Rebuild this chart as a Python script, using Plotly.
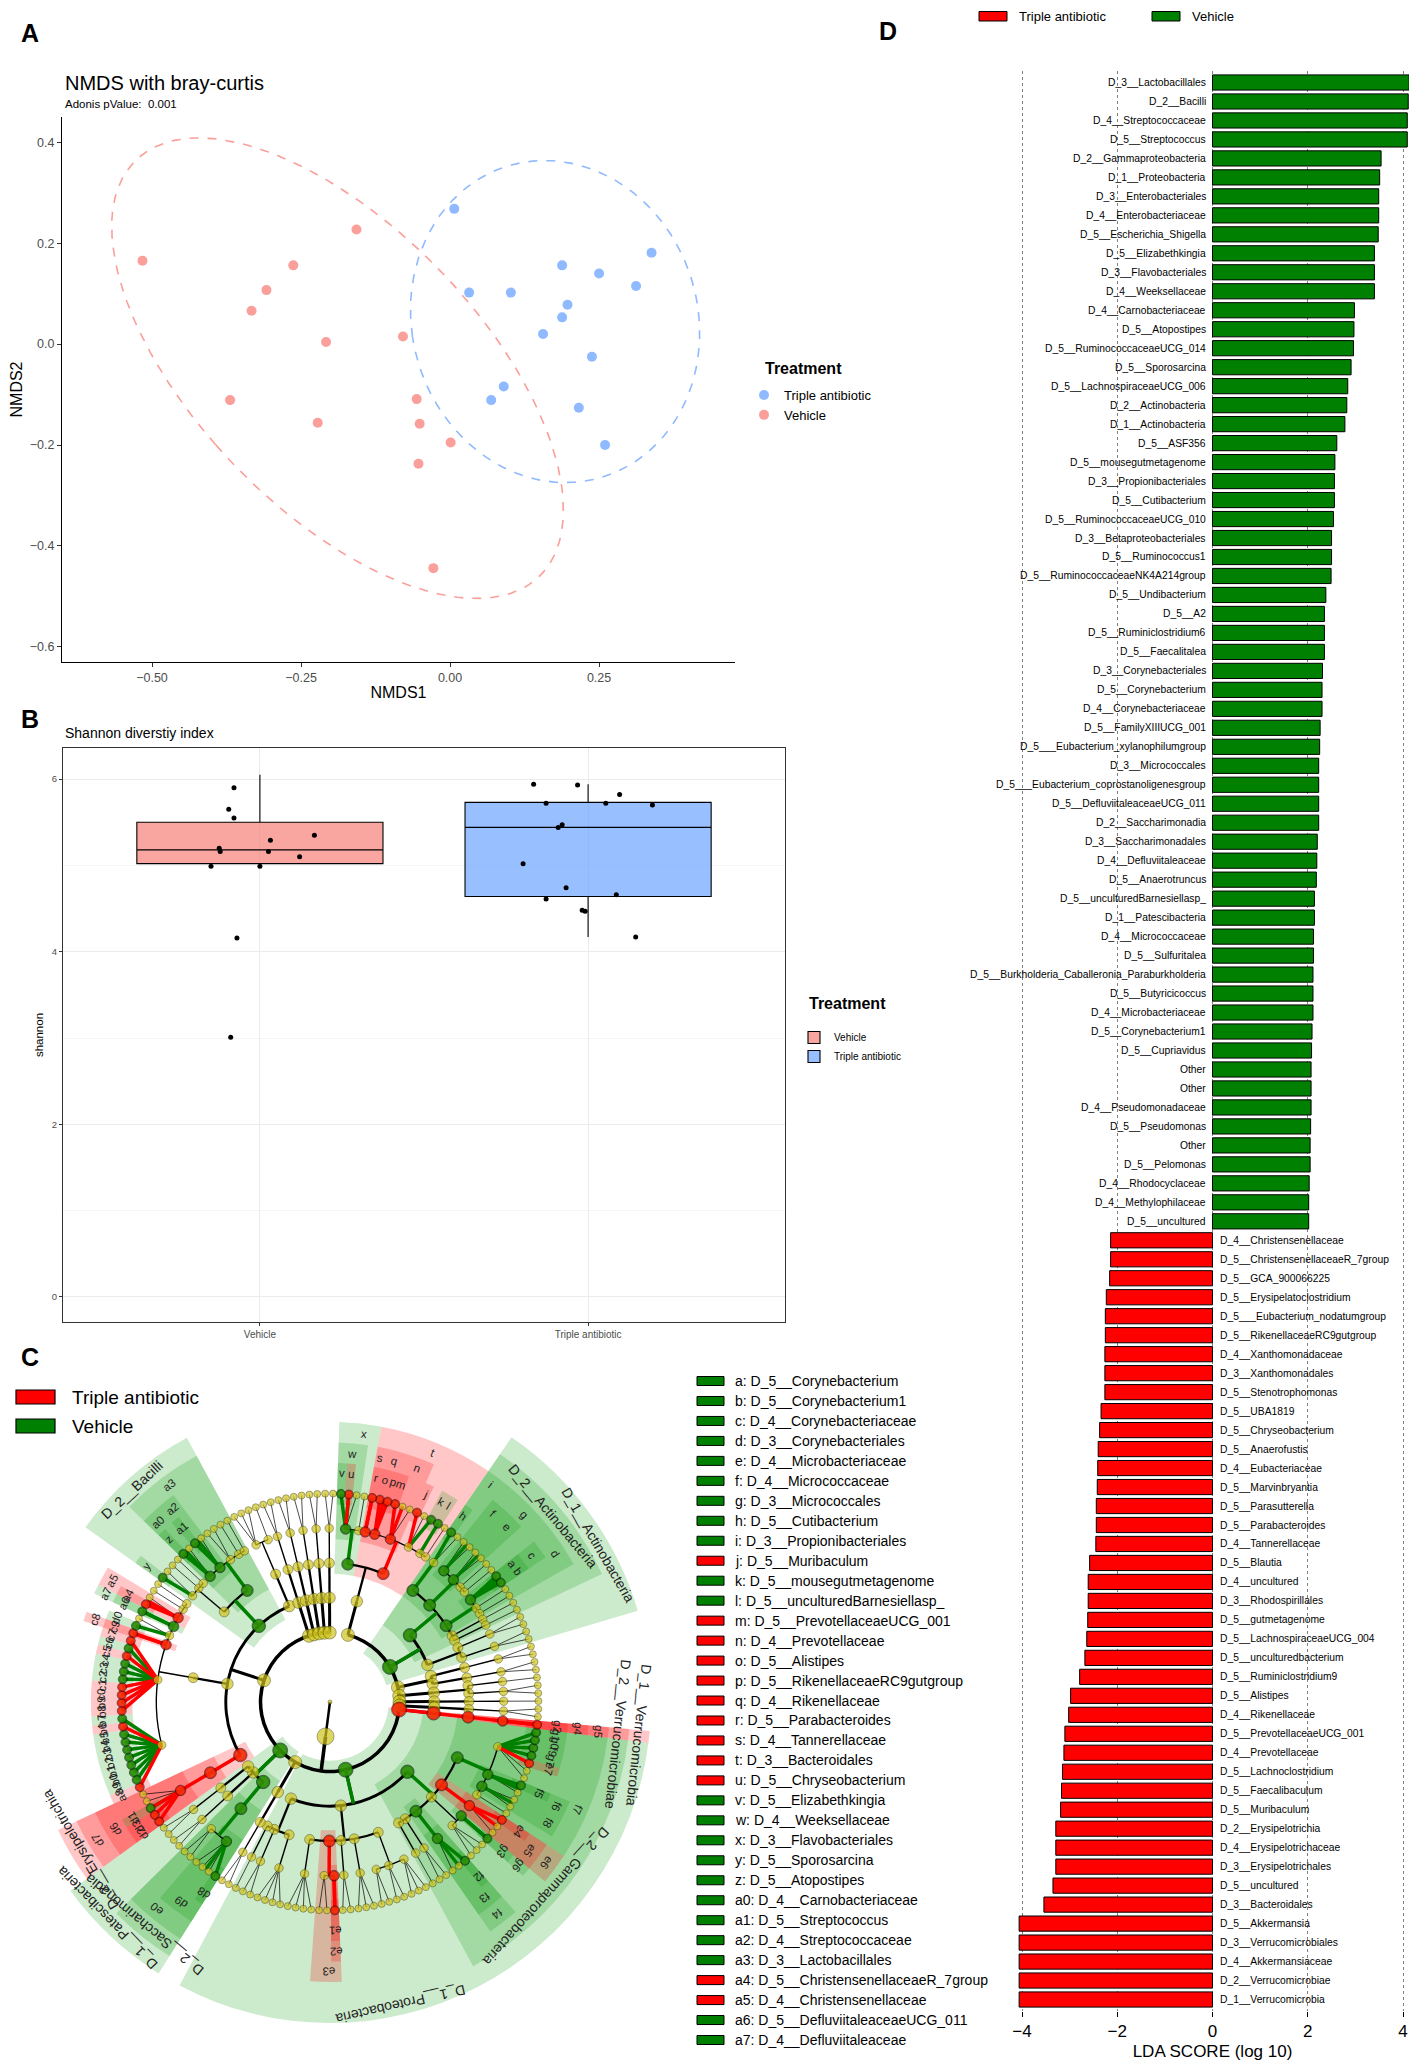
import numpy as np
import plotly.graph_objects as go

W, H = 1417, 2068
OFF = 8  # the page body adds an 8 px margin
FONT = "Liberation Sans, Arial, Helvetica, sans-serif"


def fx(p):
    return (p - OFF) / W


def fy(p):
    return 1 - (p - OFF) / H


RED_PT = "rgba(248,118,109,0.7)"
BLUE_PT = "rgba(97,156,255,0.7)"

# ---------------- A: NMDS (bray-curtis) ----------------
nmds_tri_x = [0.007, 0.338, 0.188, 0.250, 0.032, 0.102, 0.312, 0.197, 0.188, 0.156, 0.238, 0.090, 0.069, 0.216, 0.260]
nmds_tri_y = [0.268, 0.181, 0.156, 0.140, 0.102, 0.102, 0.115, 0.078, 0.053, 0.020, -0.025, -0.084, -0.111, -0.126, -0.200]
nmds_veh_x = [-0.516, -0.157, -0.263, -0.308, -0.333, -0.208, -0.079, -0.369, -0.222, -0.056, -0.051, 0.001, -0.053, -0.028]
nmds_veh_y = [0.165, 0.227, 0.156, 0.107, 0.066, 0.004, 0.015, -0.111, -0.156, -0.109, -0.158, -0.195, -0.237, -0.444]

# ---------------- B: Shannon index ----------------
shannon_groups = ["Vehicle", "Triple antibiotic"]
shannon_veh = [5.90, 5.65, 5.55, 5.35, 5.29, 5.20, 5.16, 5.16, 5.10, 4.99, 4.99, 4.16, 3.01]
shannon_veh_jit = [-0.079, -0.095, -0.079, 0.166, 0.032, -0.124, -0.121, 0.026, 0.121, -0.149, 0.0, -0.070, -0.089]
shannon_tri = [5.94, 5.93, 5.82, 5.72, 5.72, 5.70, 5.47, 5.44, 5.02, 4.74, 4.66, 4.61, 4.48, 4.47, 4.17]
shannon_tri_jit = [-0.166, -0.032, 0.096, -0.128, 0.054, 0.196, -0.079, -0.091, -0.198, -0.067, 0.086, -0.128, -0.018, -0.009, 0.145]
box_q1 = [5.02, 4.64]
box_med = [5.18, 5.44]
box_q3 = [5.50, 5.73]
box_lo = [4.99, 4.17]
box_hi = [6.05, 5.94]

# ---------------- C: cladogram ----------------
clade_tree = [
    ("D_1__Bacteroidetes", [
        ("D_2__Bacteroidia", [
            ("D_3__Flavobacteriales", [
                ("D_4__Weeksellaceae", ["D_5__Elizabethkingia", "D_5__Chryseobacterium", "-"]),
                ("D_4__Flavobacteriaceae", ["-"])]),
            ("D_3__Bacteroidales", [
                ("D_4__Tannerellaceae", ["D_5__Parabacteroides"]),
                ("D_4__Rikenellaceae", ["D_5__Alistipes", "D_5__RikenellaceaeRC9gutgroup"]),
                ("D_4__Prevotellaceae", ["D_5__PrevotellaceaeUCG_001", "-", "-"]),
                ("D_4__Muribaculaceae", ["D_5__Muribaculum", "-", "D_5__mousegutmetagenome"]),
                ("D_4__Barnesiellaceae", ["D_5__unculturedBarnesiellasp_"]),
                ("D_4__Bacteroidaceae", ["-"])])])]),
    ("D_1__Actinobacteria", [
        ("D_2__Actinobacteria", [
            ("D_3__Propionibacteriales", [("D_4__Propionibacteriaceae", ["D_5__Cutibacterium", "-"])]),
            ("D_3__Micrococcales", [
                ("D_4__Micrococcaceae", ["-", "-"]),
                ("D_4__Microbacteriaceae", ["-", "-"]),
                ("D_4__Intrasporangiaceae", ["-"]),
                ("D_4__Brevibacteriaceae", ["-"])]),
            ("D_3__Corynebacteriales", [
                ("D_4__Corynebacteriaceae", ["D_5__Corynebacterium", "D_5__Corynebacterium1"]),
                ("D_4__Dietziaceae", ["-"]),
                ("D_4__Nocardiaceae", ["-"])]),
            ("D_3__Bifidobacteriales", [("D_4__Bifidobacteriaceae", ["-"])]),
            ("D_3__Frankiales", [("D_4__Geodermatophilaceae", ["-"])])]),
        ("D_2__Coriobacteriia", [
            ("D_3__Coriobacteriales", [("D_4__Atopobiaceae", ["-", "-"])]),
            ("D_3__Eggerthellales", [("D_4__Eggerthellaceae", ["-", "-"])])])]),
    ("D_1__Cyanobacteria", [
        ("D_2__Melainabacteria", [("D_3__Gastranaerophilales", [("D_4__Gastranaerophilales", ["-", "-"])])]),
        ("D_2__Oxyphotobacteria", [("D_3__Chloroplast", [("D_4__Chloroplast", ["-", "-"])])])]),
    ("D_1__Tenericutes", [
        ("D_2__Mollicutes", [
            ("D_3__Anaeroplasmatales", [("D_4__Anaeroplasmataceae", ["-"])]),
            ("D_3__Mollicutes_RF39", [("D_4__Mollicutes_RF39", ["-", "-"])])])]),
    ("D_1__Deferribacteres", [("D_2__Deferribacteres", [("D_3__Deferribacterales", [("D_4__Deferribacteraceae", ["-"])])])]),
    ("D_1__Epsilonbacteraeota", [("D_2__Campylobacteria", [("D_3__Campylobacterales", [("D_4__Helicobacteraceae", ["-", "-"])])])]),
    ("D_1__Verrucomicrobia", [("D_2__Verrucomicrobiae", [("D_3__Verrucomicrobiales", [("D_4__Akkermansiaceae", ["D_5__Akkermansia"])])])]),
    ("D_1__Proteobacteria", [
        ("D_2__Gammaproteobacteria", [
            ("D_3__Betaproteobacteriales", [
                ("D_4__Burkholderiaceae", ["D_5__Burkholderia_Caballeronia_Paraburkholderia", "D_5__Cupriavidus",
                                           "D_5__Pelomonas", "D_5__Undibacterium", "D_5__Parasutterella", "-", "-"]),
                ("D_4__Rhodocyclaceae", ["D_5__Sulfuritalea", "-"]),
                ("D_4__Methylophilaceae", ["-", "-"]),
                ("D_4__Nitrosomonadaceae", ["-"])]),
            ("D_3__Xanthomonadales", [("D_4__Xanthomonadaceae", ["D_5__Stenotrophomonas", "-", "-"])]),
            ("D_3__Pseudomonadales", [("D_4__Pseudomonadaceae", ["D_5__Pseudomonas"]), ("D_4__Moraxellaceae", ["-", "-", "-"])]),
            ("D_3__Enterobacteriales", [("D_4__Enterobacteriaceae", ["D_5__Escherichia_Shigella", "-", "-"])]),
            ("D_3__Pasteurellales", [("D_4__Pasteurellaceae", ["-", "-"])]),
            ("D_3__Aeromonadales", [("D_4__Aeromonadaceae", ["-"])])]),
        ("D_2__Alphaproteobacteria", [
            ("D_3__Rhizobiales", [("D_4__Rhizobiaceae", ["-", "-", "-"]), ("D_4__Beijerinckiaceae", ["-", "-"]),
                                  ("D_4__Xanthobacteraceae", ["-", "-"])]),
            ("D_3__Sphingomonadales", [("D_4__Sphingomonadaceae", ["-", "-", "-"])]),
            ("D_3__Caulobacterales", [("D_4__Caulobacteraceae", ["-", "-"])]),
            ("D_3__Rhodospirillales", [("D_4__uncultured", ["D_5__uncultured"]), ("D_4__Acetobacteraceae", ["-", "-"])]),
            ("D_3__Rhodobacterales", [("D_4__Rhodobacteraceae", ["-", "-", "-", "-"])])]),
        ("D_2__Deltaproteobacteria", [
            ("D_3__Desulfovibrionales", [("D_4__Desulfovibrionaceae", ["-", "-", "-", "-"])]),
            ("D_3__Myxococcales", [("D_4__Myxococcaceae", ["-", "-"])]),
            ("D_3__Bdellovibrionales", [("D_4__Bdellovibrionaceae", ["-"])])])]),
    ("D_1__Spirochaetes", [("D_2__Spirochaetia", [("D_3__Spirochaetales", [("D_4__Spirochaetaceae", ["-", "-"])])])]),
    ("D_1__Patescibacteria", [
        ("D_2__Saccharimonadia", [("D_3__Saccharimonadales", [
            ("D_4__Saccharimonadaceae", ["D_5__Candidatus_Saccharimonas", "-", "-", "-"]),
            ("D_4__LWQ8", ["-", "-"])])]),
        ("D_2__Gracilibacteria", [("D_3__Absconditabacteriales", [("D_4__Absconditabacteriales", ["-", "-"])])]),
        ("D_2__Parcubacteria", [("D_3__Kaiserbacteria", [("D_4__Kaiserbacteria", ["-", "-"])])])]),
    ("D_1__Firmicutes", [
        ("D_2__Erysipelotrichia", [("D_3__Erysipelotrichales", [
            ("D_4__Erysipelotrichaceae", ["D_5__Erysipelatoclostridium", "D_5__Faecalibaculum", "D_5__Faecalitalea", "-", "-"])])]),
        ("D_2__Clostridia", [("D_3__Clostridiales", [
            ("D_4__Ruminococcaceae", ["D_5__Ruminiclostridium9", "D_5__Ruminiclostridium6", "D_5__RuminococcaceaeUCG_014",
                                      "D_5__RuminococcaceaeUCG_010", "D_5__Ruminococcus1", "D_5__RuminococcaceaeNK4A214group",
                                      "D_5__Anaerotruncus", "D_5__Butyricicoccus", "D_5__UBA1819",
                                      "D_5___Eubacterium_coprostanoligenesgroup"]),
            ("D_4__Lachnospiraceae", ["D_5__Blautia", "D_5__Marvinbryantia", "D_5__Lachnoclostridium",
                                      "D_5__LachnospiraceaeUCG_004", "D_5__LachnospiraceaeUCG_006",
                                      "D_5___Eubacterium_xylanophilumgroup", "D_5__A2", "D_5___Eubacterium_nodatumgroup",
                                      "D_5__ASF356", "D_5__GCA_900066225"]),
            ("D_4__Eubacteriaceae", ["D_5__Anaerofustis"]),
            ("D_4__FamilyXIII", ["D_5__FamilyXIIIUCG_001", "-"]),
            ("D_4__Defluviitaleaceae", ["D_5__DefluviitaleaceaeUCG_011"]),
            ("D_4__Christensenellaceae", ["D_5__ChristensenellaceaeR_7group", "-"]),
            ("D_4__Peptostreptococcaceae", ["-"]),
            ("D_4__Clostridiaceae_1", ["-"])])]),
        ("D_2__Bacilli", [
            ("D_3__Bacillales", [("D_4__Planococcaceae", ["D_5__Sporosarcina", "-"]), ("D_4__Staphylococcaceae", ["-"]),
                                 ("D_4__Bacillaceae", ["-"])]),
            ("D_3__Lactobacillales", [("D_4__Carnobacteriaceae", ["D_5__Atopostipes", "-"]),
                                      ("D_4__Streptococcaceae", ["D_5__Streptococcus", "-"]),
                                      ("D_4__Lactobacillaceae", ["-", "-"]), ("D_4__Enterococcaceae", ["-"]),
                                      ("D_4__Aerococcaceae", ["-"])])]),
        ("D_2__Negativicutes", [("D_3__Selenomonadales", [("D_4__Veillonellaceae", ["-", "-", "-"]),
                                                         ("D_4__Acidaminococcaceae", ["-"])])])]),
    ("D_1__Fusobacteria", [("D_2__Fusobacteriia", [("D_3__Fusobacteriales", [("D_4__Fusobacteriaceae", ["-", "-"])])])]),
    ("D_1__Deinococcus_Thermus", [("D_2__Deinococci", [("D_3__Deinococcales", [("D_4__Deinococcaceae", ["-", "-"])])])]),
    ("D_1__Chloroflexi", [("D_2__Anaerolineae", [("D_3__Anaerolineales", [("D_4__Anaerolineaceae", ["-", "-"])])])]),
    ("D_1__Acidobacteria", [("D_2__Acidobacteriia", [("D_3__Acidobacteriales", [("D_4__Acidobacteriaceae", ["-", "-"])])])]),
    ("D_1__Planctomycetes", [("D_2__Planctomycetacia", [("D_3__Pirellulales", [("D_4__Pirellulaceae", ["-", "-"])])])]),
]

# (label, taxon, group)  T = Triple antibiotic, V = Vehicle ; the first 34 form the key
clade_marks = [
    ("a", "D_5__Corynebacterium", "V"), ("b", "D_5__Corynebacterium1", "V"), ("c", "D_4__Corynebacteriaceae", "V"),
    ("d", "D_3__Corynebacteriales", "V"), ("e", "D_4__Microbacteriaceae", "V"), ("f", "D_4__Micrococcaceae", "V"),
    ("g", "D_3__Micrococcales", "V"), ("h", "D_5__Cutibacterium", "V"), ("i", "D_3__Propionibacteriales", "V"),
    ("j", "D_5__Muribaculum", "T"), ("k", "D_5__mousegutmetagenome", "V"), ("l", "D_5__unculturedBarnesiellasp_", "V"),
    ("m", "D_5__PrevotellaceaeUCG_001", "T"), ("n", "D_4__Prevotellaceae", "T"), ("o", "D_5__Alistipes", "T"),
    ("p", "D_5__RikenellaceaeRC9gutgroup", "T"), ("q", "D_4__Rikenellaceae", "T"), ("r", "D_5__Parabacteroides", "T"),
    ("s", "D_4__Tannerellaceae", "T"), ("t", "D_3__Bacteroidales", "T"), ("u", "D_5__Chryseobacterium", "T"),
    ("v", "D_5__Elizabethkingia", "V"), ("w", "D_4__Weeksellaceae", "V"), ("x", "D_3__Flavobacteriales", "V"),
    ("y", "D_5__Sporosarcina", "V"), ("z", "D_5__Atopostipes", "V"), ("a0", "D_4__Carnobacteriaceae", "V"),
    ("a1", "D_5__Streptococcus", "V"), ("a2", "D_4__Streptococcaceae", "V"), ("a3", "D_3__Lactobacillales", "V"),
    ("a4", "D_5__ChristensenellaceaeR_7group", "T"), ("a5", "D_4__Christensenellaceae", "T"),
    ("a6", "D_5__DefluviitaleaceaeUCG_011", "V"), ("a7", "D_4__Defluviitaleaceae", "V"),
    ("a8", "D_5__Ruminiclostridium9", "T"), ("a9", "D_5__Ruminiclostridium6", "V"),
    ("b0", "D_5__RuminococcaceaeUCG_014", "V"), ("b1", "D_5__RuminococcaceaeUCG_010", "V"),
    ("b2", "D_5__Ruminococcus1", "V"), ("b3", "D_5__RuminococcaceaeNK4A214group", "V"),
    ("b4", "D_5__Anaerotruncus", "V"), ("b5", "D_5__Butyricicoccus", "V"), ("b6", "D_5__UBA1819", "T"),
    ("b7", "D_5___Eubacterium_coprostanoligenesgroup", "V"), ("b8", "D_5__Blautia", "T"),
    ("b9", "D_5__Marvinbryantia", "T"), ("c0", "D_5__Lachnoclostridium", "T"), ("c1", "D_5__LachnospiraceaeUCG_004", "T"),
    ("c2", "D_5__LachnospiraceaeUCG_006", "V"), ("c3", "D_5___Eubacterium_xylanophilumgroup", "V"),
    ("c4", "D_5__A2", "V"), ("c5", "D_5___Eubacterium_nodatumgroup", "T"), ("c6", "D_5__ASF356", "V"),
    ("c7", "D_5__GCA_900066225", "T"), ("c8", "D_4__Eubacteriaceae", "T"), ("c9", "D_5__Anaerofustis", "T"),
    ("d0", "D_5__FamilyXIIIUCG_001", "V"), ("d1", "D_5__Faecalitalea", "V"), ("d2", "D_5__Erysipelatoclostridium", "T"),
    ("d3", "D_5__Faecalibaculum", "T"), ("d6", "D_4__Erysipelotrichaceae", "T"), ("d7", "D_3__Erysipelotrichales", "T"),
    ("d8", "D_5__Candidatus_Saccharimonas", "V"), ("d9", "D_4__Saccharimonadaceae", "V"),
    ("e0", "D_3__Saccharimonadales", "V"), ("e1", "D_5__uncultured", "T"), ("e2", "D_4__uncultured", "T"),
    ("e3", "D_3__Rhodospirillales", "T"), ("e4", "D_5__Stenotrophomonas", "T"), ("e5", "D_4__Xanthomonadaceae", "T"),
    ("e6", "D_3__Xanthomonadales", "T"), ("e7", "D_5__Parasutterella", "T"), ("f2", "D_5__Escherichia_Shigella", "V"),
    ("f3", "D_4__Enterobacteriaceae", "V"), ("f4", "D_3__Enterobacteriales", "V"), ("f5", "D_5__Sulfuritalea", "V"),
    ("f6", "D_4__Rhodocyclaceae", "V"), ("f7", "D_3__Betaproteobacteriales", "V"), ("f8", "D_4__Methylophilaceae", "V"),
    ("f9", "D_5__Pelomonas", "V"), ("g0", "D_5__Cupriavidus", "V"),
    ("g1", "D_5__Burkholderia_Caballeronia_Paraburkholderia", "V"), ("g2", "D_5__Akkermansia", "T"),
    ("g3", "D_5__Pseudomonas", "V"), ("g4", "D_4__Akkermansiaceae", "T"), ("g5", "D_3__Verrucomicrobiales", "T"),
    ("g6", "D_4__Pseudomonadaceae", "V"), ("g7", "D_5__Undibacterium", "V"),
    ("D_1__Actinobacteria", "D_1__Actinobacteria", "V"), ("D_2__Actinobacteria", "D_2__Actinobacteria", "V"),
    ("D_2__Bacilli", "D_2__Bacilli", "V"), ("D_1__Proteobacteria", "D_1__Proteobacteria", "V"),
    ("D_2__Gammaproteobacteria", "D_2__Gammaproteobacteria", "V"),
    ("D_1__Verrucomicrobia", "D_1__Verrucomicrobia", "T"), ("D_2__Verrucomicrobiae", "D_2__Verrucomicrobiae", "T"),
    ("D_1__Patescibacteria", "D_1__Patescibacteria", "V"), ("D_2__Saccharimonadia", "D_2__Saccharimonadia", "V"),
    ("D_2__Erysipelotrichia", "D_2__Erysipelotrichia", "T"),
]
n_key = 34

# ---------------- D: LDA scores ----------------
lda_veh_names = [
    "D_3__Lactobacillales", "D_2__Bacilli", "D_4__Streptococcaceae", "D_5__Streptococcus",
    "D_2__Gammaproteobacteria", "D_1__Proteobacteria", "D_3__Enterobacteriales", "D_4__Enterobacteriaceae",
    "D_5__Escherichia_Shigella", "D_5__Elizabethkingia", "D_3__Flavobacteriales", "D_4__Weeksellaceae",
    "D_4__Carnobacteriaceae", "D_5__Atopostipes", "D_5__RuminococcaceaeUCG_014", "D_5__Sporosarcina",
    "D_5__LachnospiraceaeUCG_006", "D_2__Actinobacteria", "D_1__Actinobacteria", "D_5__ASF356",
    "D_5__mousegutmetagenome", "D_3__Propionibacteriales", "D_5__Cutibacterium", "D_5__RuminococcaceaeUCG_010",
    "D_3__Betaproteobacteriales", "D_5__Ruminococcus1", "D_5__RuminococcaceaeNK4A214group", "D_5__Undibacterium",
    "D_5__A2", "D_5__Ruminiclostridium6", "D_5__Faecalitalea", "D_3__Corynebacteriales", "D_5__Corynebacterium",
    "D_4__Corynebacteriaceae", "D_5__FamilyXIIIUCG_001", "D_5___Eubacterium_xylanophilumgroup", "D_3__Micrococcales",
    "D_5___Eubacterium_coprostanoligenesgroup", "D_5__DefluviitaleaceaeUCG_011", "D_2__Saccharimonadia",
    "D_3__Saccharimonadales", "D_4__Defluviitaleaceae", "D_5__Anaerotruncus", "D_5__unculturedBarnesiellasp_",
    "D_1__Patescibacteria", "D_4__Micrococcaceae", "D_5__Sulfuritalea",
    "D_5__Burkholderia_Caballeronia_Paraburkholderia", "D_5__Butyricicoccus", "D_4__Microbacteriaceae",
    "D_5__Corynebacterium1", "D_5__Cupriavidus", "Other", "Other", "D_4__Pseudomonadaceae", "D_5__Pseudomonas",
    "Other", "D_5__Pelomonas", "D_4__Rhodocyclaceae", "D_4__Methylophilaceae", "D_5__uncultured",
]
lda_veh_scores = [
    4.13, 4.11, 4.09, 4.09, 3.54, 3.51, 3.49, 3.49, 3.48, 3.40, 3.40, 3.40, 2.98, 2.97, 2.96, 2.91, 2.84, 2.82,
    2.78, 2.61, 2.57, 2.56, 2.56, 2.54, 2.50, 2.50, 2.49, 2.38, 2.35, 2.35, 2.35, 2.31, 2.30, 2.30, 2.26, 2.25,
    2.23, 2.23, 2.23, 2.23, 2.20, 2.19, 2.18, 2.14, 2.14, 2.12, 2.12, 2.11, 2.11, 2.11, 2.09, 2.08, 2.07, 2.07,
    2.07, 2.06, 2.05, 2.05, 2.03, 2.02, 2.02,
]
lda_tri_names = [
    "D_4__Christensenellaceae", "D_5__ChristensenellaceaeR_7group", "D_5__GCA_900066225",
    "D_5__Erysipelatoclostridium", "D_5___Eubacterium_nodatumgroup", "D_5__RikenellaceaeRC9gutgroup",
    "D_4__Xanthomonadaceae", "D_3__Xanthomonadales", "D_5__Stenotrophomonas", "D_5__UBA1819",
    "D_5__Chryseobacterium", "D_5__Anaerofustis", "D_4__Eubacteriaceae", "D_5__Marvinbryantia",
    "D_5__Parasutterella", "D_5__Parabacteroides", "D_4__Tannerellaceae", "D_5__Blautia", "D_4__uncultured",
    "D_3__Rhodospirillales", "D_5__gutmetagenome", "D_5__LachnospiraceaeUCG_004", "D_5__unculturedbacterium",
    "D_5__Ruminiclostridium9", "D_5__Alistipes", "D_4__Rikenellaceae", "D_5__PrevotellaceaeUCG_001",
    "D_4__Prevotellaceae", "D_5__Lachnoclostridium", "D_5__Faecalibaculum", "D_5__Muribaculum",
    "D_2__Erysipelotrichia", "D_4__Erysipelotrichaceae", "D_3__Erysipelotrichales", "D_5__uncultured",
    "D_3__Bacteroidales", "D_5__Akkermansia", "D_3__Verrucomicrobiales", "D_4__Akkermansiaceae",
    "D_2__Verrucomicrobiae", "D_1__Verrucomicrobia",
]
lda_tri_scores = [
    -2.14, -2.14, -2.16, -2.23, -2.25, -2.25, -2.26, -2.26, -2.26, -2.34, -2.37, -2.40, -2.41, -2.42, -2.44,
    -2.44, -2.45, -2.58, -2.61, -2.61, -2.62, -2.64, -2.68, -2.79, -2.98, -3.02, -3.10, -3.12, -3.15, -3.17,
    -3.19, -3.29, -3.29, -3.29, -3.35, -3.54, -4.06, -4.06, -4.06, -4.06, -4.06,
]

GREEN = "#008000"
RED = "#FF0000"
GROUP_COL = {"V": GREEN, "T": RED}
GROUP_FILL = {"V": "rgba(0,150,0,0.2)", "T": "rgba(255,0,0,0.22)"}

fig = go.Figure()
ann = []
shapes = []

# ======== panel A ========


def conf_ellipse(xs, ys, chi2=5.991, n=140):
    # normal-theory 95% ellipse, like stat_ellipse
    pts = np.column_stack([xs, ys])
    mu = pts.mean(axis=0)
    vals, vecs = np.linalg.eigh(np.cov(pts.T))
    t = np.linspace(0, 2 * np.pi, n)
    unit = np.vstack([np.cos(t), np.sin(t)])
    ell = vecs @ (np.sqrt(vals * chi2)[:, None] * unit) + mu[:, None]
    return ell[0], ell[1]


nmds_sets = [("Triple antibiotic", nmds_tri_x, nmds_tri_y, BLUE_PT),
             ("Vehicle", nmds_veh_x, nmds_veh_y, RED_PT)]
for name, xs, ys, col in nmds_sets:
    ex, ey = conf_ellipse(xs, ys)
    fig.add_trace(go.Scatter(x=ex, y=ey, mode="lines", line=dict(color=col, dash="dash", width=1.6),
                             showlegend=False, hoverinfo="skip", xaxis="x", yaxis="y"))
for name, xs, ys, col in nmds_sets:
    fig.add_trace(go.Scatter(x=xs, y=ys, mode="markers", name=name, marker=dict(color=col, size=10),
                             xaxis="x", yaxis="y", legend="legend"))

# ======== panel B ========
box_fill = ["rgba(248,118,109,0.65)", "rgba(97,156,255,0.65)"]
for i, name in enumerate(shannon_groups):
    fig.add_trace(go.Box(x=[i + 1], q1=[box_q1[i]], median=[box_med[i]], q3=[box_q3[i]],
                         lowerfence=[box_lo[i]], upperfence=[box_hi[i]], width=0.75, whiskerwidth=0,
                         fillcolor=box_fill[i], line=dict(color="black", width=1.1), name=name,
                         boxpoints=False, xaxis="x2", yaxis="y2", legend="legend2"))
for base, vals, jit in [(1, shannon_veh, shannon_veh_jit), (2, shannon_tri, shannon_tri_jit)]:
    fig.add_trace(go.Scatter(x=[base + j for j in jit], y=vals, mode="markers",
                             marker=dict(color="black", size=5), showlegend=False, xaxis="x2", yaxis="y2"))

# ======== panel C: cladogram ========
R_STEP = 35.6
CX, CY = 330, 1702      # page pixels of the centre
PR, RMAX = 322, 330     # pixel radius of the polar area, radial range
RS = PR / RMAX


def count_leaves(item):
    kids = item[1]
    return sum(1 if isinstance(k, str) else count_leaves(k) for k in kids)


root = ("root", [("D_0__Bacteria", clade_tree)])
n_leaf = count_leaves(root)
step = 360.0 / n_leaf
start = 3.0
nodes = []


def place(item, level, parent, counter):
    name, kids = item
    idx = len(nodes)
    nodes.append({"name": name, "level": level, "parent": parent, "kids": []})
    for k in kids:
        if isinstance(k, str):
            j = len(nodes)
            nodes.append({"name": k, "level": level + 1, "parent": idx, "kids": [],
                          "theta": start + counter[0] * step, "span": (counter[0], counter[0])})
            counter[0] += 1
        else:
            j = place(k, level + 1, idx, counter)
        nodes[idx]["kids"].append(j)
    first, last = nodes[nodes[idx]["kids"][0]], nodes[nodes[idx]["kids"][-1]]
    nodes[idx]["theta"] = (first["theta"] + last["theta"]) / 2
    nodes[idx]["span"] = (first["span"][0], last["span"][1])
    return idx


place(root, 0, None, [0])
by_name = {}
for i, nd in enumerate(nodes):
    if nd["name"] != "-":
        by_name.setdefault(nd["name"], i)

marked = []
for label, taxon, grp in clade_marks:
    if taxon in by_name:
        marked.append((label, nodes[by_name[taxon]], grp))

# shaded clade wedges (outer levels first so nested ones sit on top)
marked.sort(key=lambda m: m[1]["level"])
w_theta, w_width, w_base, w_r, w_col = [], [], [], [], []
for label, nd, grp in marked:
    lv = nd["level"]
    outer = 329 - (lv - 2) * 21
    base = lv * R_STEP - 11
    a0 = start + nd["span"][0] * step - step / 2
    a1 = start + nd["span"][1] * step + step / 2
    w_theta.append((a0 + a1) / 2)
    w_width.append(a1 - a0)
    w_base.append(base)
    w_r.append(outer - base)
    w_col.append(GROUP_FILL[grp])
fig.add_trace(go.Barpolar(theta=w_theta, width=w_width, base=w_base, r=w_r,
                          marker=dict(color=w_col, line=dict(width=0)), showlegend=False,
                          hoverinfo="skip", subplot="polar"))

# tree edges: radial stubs + arcs on the inner levels, fans out to the genera
edge_w = {1: 2.5, 2: 3.6, 3: 3.0, 4: 2.3, 5: 1.4}
lines = {}
arcs = {}
for nd in nodes:
    if not nd["kids"]:
        continue
    kids = [nodes[k] for k in nd["kids"]]
    kl = nd["level"] + 1
    rn, rk = nd["level"] * R_STEP, kl * R_STEP
    if kl <= 5:
        wd = edge_w[kl]
        seg = lines.setdefault(wd, ([], []))
        seg[0].extend([rn, rk, None])
        seg[1].extend([nd["theta"], nd["theta"], None])
        if len(kids) > 1:
            a0, a1 = kids[0]["theta"], kids[-1]["theta"]
            arc = arcs.setdefault(wd, ([], [], [], []))
            arc[0].append((a0 + a1) / 2)
            arc[1].append(a1 - a0)
            arc[2].append(rk - wd / 2)
            arc[3].append(wd)
    else:
        seg = lines.setdefault(0.7, ([], []))
        for k in kids:
            seg[0].extend([rn, rk, None])
            seg[1].extend([nd["theta"], k["theta"], None])
for wd, (th, wdt, bs, rr) in arcs.items():
    fig.add_trace(go.Barpolar(theta=th, width=wdt, base=bs, r=rr, marker=dict(color="black", line=dict(width=0)),
                              showlegend=False, hoverinfo="skip", subplot="polar"))
for wd, (rr, th) in lines.items():
    fig.add_trace(go.Scatterpolar(r=rr, theta=th, mode="lines", line=dict(color="black", width=wd),
                                  connectgaps=False, showlegend=False, hoverinfo="skip", subplot="polar"))

# coloured edges of the discriminant clades
for grp in ["V", "T"]:
    rr, th = [], []
    for label, nd, g in marked:
        if g != grp:
            continue
        par = nodes[nd["parent"]]
        if nd["level"] == 6:
            rr.extend([par["level"] * R_STEP, nd["level"] * R_STEP, None])
            th.extend([par["theta"], nd["theta"], None])
        else:
            rr.extend([nd["level"] * R_STEP, (nd["level"] + 1) * R_STEP, None])
            th.extend([nd["theta"], nd["theta"], None])
    fig.add_trace(go.Scatterpolar(r=rr, theta=th, mode="lines", line=dict(color=GROUP_COL[grp], width=3.5),
                                  connectgaps=False, showlegend=False, hoverinfo="skip", subplot="polar"))

node_size = [4, 17, 13, 11.5, 10, 8.5, 7]
fig.add_trace(go.Scatterpolar(r=[nd["level"] * R_STEP for nd in nodes], theta=[nd["theta"] for nd in nodes],
                              mode="markers",
                              marker=dict(size=[node_size[nd["level"]] for nd in nodes], color="#CFC41D",
                                          line=dict(color="#333300", width=0.6)),
                              showlegend=False, hoverinfo="skip", subplot="polar"))
fig.add_trace(go.Scatterpolar(r=[nd["level"] * R_STEP for _, nd, _ in marked],
                              theta=[nd["theta"] for _, nd, _ in marked], mode="markers",
                              marker=dict(size=[node_size[nd["level"]] + 2 for _, nd, _ in marked],
                                          color=[GROUP_COL[g] for _, _, g in marked],
                                          line=dict(color="black", width=0.7)),
                              showlegend=False, hoverinfo="skip", subplot="polar"))

# wedge labels, written along the circle
for label, nd, grp in marked:
    lv = nd["level"]
    rlab = (329 - (lv - 2) * 21 - 10.5) * RS
    th = nd["theta"]
    a = np.radians(th)
    xp, yp = CX + rlab * np.sin(a), CY - rlab * np.cos(a)
    ang = th % 360
    ta = ang if ang <= 180 else ang - 360
    ann.append(dict(x=fx(xp), y=fy(yp), xref="paper", yref="paper", text=label, showarrow=False,
                    textangle=ta, xanchor="center", yanchor="middle",
                    font=dict(size=14 if label.startswith("D_") else 11.5, color="#222")))

# group key (C)
for i, (txt, col) in enumerate([("Triple antibiotic", RED), ("Vehicle", GREEN)]):
    yc = 1397 + i * 29
    shapes.append(dict(type="rect", xref="paper", yref="paper", x0=fx(16), x1=fx(55), y0=fy(yc - 7), y1=fy(yc + 7),
                       fillcolor=col, line=dict(color="black", width=1.2)))
    ann.append(dict(x=fx(70), y=fy(yc), xref="paper", yref="paper", text=txt, showarrow=False,
                    xanchor="left", yanchor="middle", font=dict(size=19)))

# letter key (C)
for i, (label, taxon, grp) in enumerate(clade_marks[:n_key]):
    yc = 1381 + i * 19.97
    shapes.append(dict(type="rect", xref="paper", yref="paper", x0=fx(697), x1=fx(724), y0=fy(yc - 4.5),
                       y1=fy(yc + 4.5), fillcolor=GROUP_COL[grp], line=dict(color="black", width=1)))
    ann.append(dict(x=fx(733), y=fy(yc), xref="paper", yref="paper", text=f"{label}: {taxon}", showarrow=False,
                    xanchor="left", yanchor="middle", font=dict(size=14)))

# ======== panel D ========
n_veh = len(lda_veh_names)
pos_veh = list(range(n_veh))
pos_tri = list(range(n_veh, n_veh + len(lda_tri_names)))
fig.add_trace(go.Bar(x=lda_veh_scores, y=pos_veh, orientation="h", width=0.8,
                     marker=dict(color=GREEN, line=dict(color="black", width=1)),
                     showlegend=False, xaxis="x3", yaxis="y3"))
fig.add_trace(go.Bar(x=lda_tri_scores, y=pos_tri, orientation="h", width=0.8,
                     marker=dict(color=RED, line=dict(color="black", width=1)),
                     showlegend=False, xaxis="x3", yaxis="y3"))
for pos, name in zip(pos_veh, lda_veh_names):
    ann.append(dict(x=0, y=pos, xref="x3", yref="y3", text=name, showarrow=False, xanchor="right",
                    xshift=-5, yanchor="middle", font=dict(size=10.3)))
for pos, name in zip(pos_tri, lda_tri_names):
    ann.append(dict(x=0, y=pos, xref="x3", yref="y3", text=name, showarrow=False, xanchor="left",
                    xshift=5, yanchor="middle", font=dict(size=10.3)))

for txt, col, x0 in [("Triple antibiotic", RED, 979), ("Vehicle", GREEN, 1152)]:
    shapes.append(dict(type="rect", xref="paper", yref="paper", x0=fx(x0), x1=fx(x0 + 28), y0=fy(21), y1=fy(11.5),
                       fillcolor=col, line=dict(color="black", width=1)))
    ann.append(dict(x=fx(x0 + 38), y=fy(16.5), xref="paper", yref="paper", text=txt, showarrow=False,
                    xanchor="left", yanchor="middle", font=dict(size=13)))

# ======== titles, legend titles and panel letters ========
for txt, xl, yl, sz in [("NMDS with bray-curtis", 63, 83, 20), ("Adonis pValue:  0.001", 63, 104, 11.5),
                        ("Shannon diverstiy index", 63, 733, 14),
                        ("<b>Treatment</b>", 763, 368, 16), ("<b>Treatment</b>", 807, 1003, 16)]:
    ann.append(dict(x=fx(xl), y=fy(yl), xref="paper", yref="paper", text=txt, showarrow=False,
                    xanchor="left", yanchor="middle", font=dict(size=sz)))
for letter, xl, yl in [("A", 19, 33), ("B", 19, 719), ("C", 19, 1357), ("D", 877, 31)]:
    ann.append(dict(x=fx(xl), y=fy(yl), xref="paper", yref="paper", text=f"<b>{letter}</b>", showarrow=False,
                    xanchor="left", yanchor="middle", font=dict(size=25)))

tick_grey = dict(size=12.5, color="#4D4D4D")
fig.update_layout(
    width=W, height=H, margin=dict(l=0, r=0, t=0, b=0),
    paper_bgcolor="white", plot_bgcolor="white",
    font=dict(family=FONT, color="black"),
    xaxis=dict(domain=[fx(62), fx(735)], anchor="y", range=[-0.651, 0.478], dtick=0.25, tick0=0,
               tickformat=".2f", showline=True, linecolor="black", linewidth=1.3, ticks="outside", ticklen=4,
               tickcolor="#333", showgrid=False, zeroline=False, tickfont=tick_grey,
               title=dict(text="NMDS1", font=dict(size=16), standoff=2)),
    yaxis=dict(domain=[fy(662), fy(117)], anchor="x", range=[-0.63, 0.45], dtick=0.2, tick0=0,
               tickformat=".1f", showline=True, linecolor="black", linewidth=1.3, ticks="outside", ticklen=4,
               tickcolor="#333", showgrid=False, zeroline=False, tickfont=tick_grey,
               title=dict(text="NMDS2", font=dict(size=16), standoff=4)),
    xaxis2=dict(domain=[fx(63), fx(785)], anchor="y2", range=[0.4, 2.6], tickvals=[1, 2], ticktext=shannon_groups,
                showgrid=True, gridcolor="#EBEBEB", showline=True, mirror=True, linecolor="#333", linewidth=1,
                ticks="outside", ticklen=3, tickcolor="#333", zeroline=False,
                tickfont=dict(size=10, color="#4D4D4D")),
    yaxis2=dict(domain=[fy(1322), fy(748)], anchor="x2", range=[-0.29, 6.36], dtick=2, tick0=0,
                showgrid=True, gridcolor="#EBEBEB", minor=dict(dtick=1, showgrid=True, gridcolor="#F5F5F5"),
                showline=True, mirror=True, linecolor="#333", linewidth=1, ticks="outside", ticklen=3,
                tickcolor="#333", zeroline=False, tickfont=dict(size=9.5, color="#4D4D4D"),
                title=dict(text="shannon", font=dict(size=11.5), standoff=5)),
    xaxis3=dict(domain=[fx(1010), fx(1415)], anchor="y3", range=[-4.252, 4.252], tickvals=[-4, -2, 0, 2, 4],
                showgrid=True, griddash="dot", gridcolor="#808080", gridwidth=1, zeroline=False, showline=False,
                ticks="outside", ticklen=5, tickcolor="black", tickfont=dict(size=17),
                title=dict(text="LDA SCORE (log 10)", font=dict(size=17), standoff=4)),
    yaxis3=dict(domain=[fy(2010.9), fy(71.1)], anchor="x3", range=[101.6, -0.6], visible=False),
    polar=dict(domain=dict(x=[fx(CX - PR), fx(CX + PR)], y=[fy(CY + PR), fy(CY - PR)]),
               bgcolor="rgba(0,0,0,0)", barmode="overlay", bargap=0,
               radialaxis=dict(visible=False, range=[0, RMAX]),
               angularaxis=dict(visible=False, rotation=90, direction="clockwise")),
    legend=dict(x=fx(744), y=fy(380), xanchor="left", yanchor="top", bgcolor="rgba(0,0,0,0)",
                font=dict(size=13)),
    legend2=dict(x=fx(794), y=fy(1023), xanchor="left", yanchor="top", bgcolor="rgba(0,0,0,0)",
                 font=dict(size=10)),
    annotations=ann,
    shapes=shapes,
)

fig.write_html("out.html")
